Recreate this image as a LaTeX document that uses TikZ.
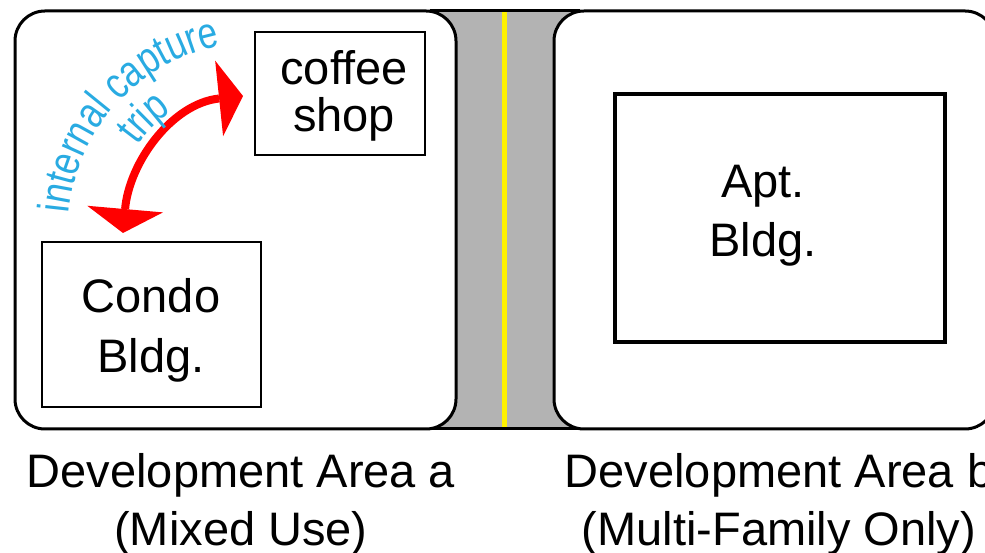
\documentclass[tikz,border=0pt]{standalone}
\usepackage{fontspec}
\setmainfont{Liberation Sans}
\newfontfamily\tripfont[FakeStretch=0.8]{Liberation Sans}
\usetikzlibrary{arrows.meta,decorations.text}
\definecolor{ROADGRAY}{RGB}{179,179,179}
\definecolor{TRIPBLUE}{RGB}{41,171,226}
\begin{document}
\begin{tikzpicture}
[
 x=1pt, y=1pt,
 inner sep=0pt,
 AREA/.style={rectangle, rounded corners=30pt, draw=black, fill=white, line width=3pt, minimum width=441pt, minimum height=418pt},
 SHOP/.style={rectangle, draw=black, fill=white, line width=2pt},
 BIGSHOP/.style={rectangle, draw=black, fill=white, line width=4pt},
 WORDS/.style={align=center, font=\fontsize{47}{#1}\selectfont},
 TRIP/.style={draw=red, line width=8pt, {Triangle[length=24pt,width=76pt,line width=0pt,red]}-{Triangle[length=24pt,width=76pt,line width=0pt,red]}},
 ]
%
\useasboundingbox (0,0) rectangle (985,553);
\clip (0,0) rectangle (985,553);
%
\fill [ROADGRAY] (430,124) rectangle (580,542);
\draw [yellow, line width=5pt] (504.5,124) -- (504.5,542);
\foreach \y in {124,542} { \draw [line width=3pt] (430,\y) -- (580,\y); }
%
\node [AREA]  (DA)  at (235.5,333)  {};
\node [AREA]  (DB)  at (774.5,333)  {};
%
\node [SHOP, minimum width=170pt, minimum height=123pt]     (CF)  at (340,459.5)   {};
\node [SHOP, minimum width=219pt, minimum height=165pt]     (CD)  at (151.5,228.5) {};
\node [BIGSHOP, minimum width=330pt, minimum height=248pt]  (AP)  at (780,335)     {};
%
\node [WORDS=47]  (CFT)  at (344,456.7)  {coffee\\shop};
\node [WORDS=60]  (CDT)  at (151,222.2)  {Condo\\Bldg.};
\node [WORDS=59]  (APT)  at (763,337.4)  {Apt.\\Bldg.};
%
\node [WORDS=58]  (LA)   at (241,49)     {Development Area a\\(Mixed Use)};
\node [WORDS=58]  (LB)   at (779,49)     {Development Area b\\(Multi-Family Only)};
%
\coordinate (TS) at (123,320);
\coordinate (TE) at (243,457);
\coordinate (AC) at (257,322);
\draw [TRIP]  (TS) to [out=85, in=186] (TE);
%
\path [decorate, decoration={text along path, text align=center, text color=TRIPBLUE,
       text={|\tripfont\fontsize{44}{44}\selectfont|internal capture}}]
      (AC) ++(179:189) arc [start angle=179, end angle=97, radius=189];
\path [decorate, decoration={text along path, text align=center, text color=TRIPBLUE,
       text={|\tripfont\fontsize{44}{44}\selectfont|trip}}]
      (AC) ++(157:147) arc [start angle=157, end angle=113, radius=147];
%
\end{tikzpicture}
\end{document}
